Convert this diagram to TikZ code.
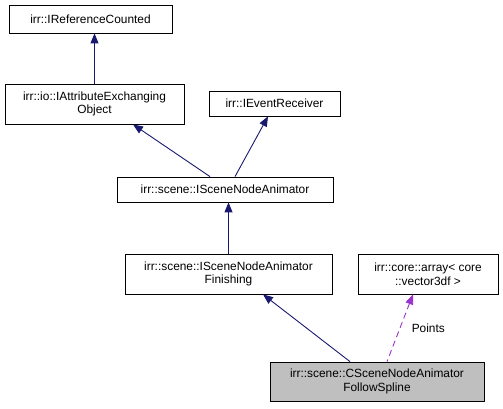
\documentclass[tikz,border=0pt]{standalone}
\usepackage{fontspec}
\setmainfont{Liberation Sans}
\usetikzlibrary{arrows.meta,positioning}
\definecolor{edgeblue}{HTML}{191970}
\definecolor{edgepurple}{HTML}{9A32CD}
\definecolor{curgray}{HTML}{BFBFBF}

\begin{document}
\begin{tikzpicture}[
    x=1pt, y=-1pt,
    cls/.style={draw, thick, inner sep=1pt, align=center, font=\fontsize{11.9}{13.8}\selectfont},
    inh/.style={{Triangle[length=10pt,width=8pt]}-, edgeblue, line width=0.9pt},
    use/.style={{Triangle[length=10pt,width=8pt]}-, edgepurple, line width=0.9pt, dash pattern=on 6pt off 4pt},
]
\useasboundingbox (0,0) rectangle (503,408);
% Class boxes
\node[cls, minimum width=163pt, minimum height=28pt] (ref) at (90.5,19) {irr::IReferenceCounted};
\node[cls, minimum width=179pt, minimum height=40pt] (attr) at (94.5,104) {irr::io::IAttributeExchanging\\Object};
\node[cls, minimum width=131pt, minimum height=25pt] (evt) at (274.5,103.5) {irr::IEventReceiver};
\node[cls, minimum width=216pt, minimum height=25pt] (anim) at (225,189.5) {irr::scene::ISceneNodeAnimator};
\node[cls, minimum width=207pt, minimum height=40pt] (fin) at (228.5,274) {irr::scene::ISceneNodeAnimator\\Finishing};
\node[cls, minimum width=140pt, minimum height=40pt] (arr) at (428,274) {irr::core::array\textless{} core\\::vector3df \textgreater};
\node[cls, fill=curgray, minimum width=214pt, minimum height=39pt] (spl) at (377,381.5) {irr::scene::CSceneNodeAnimator\\FollowSpline};

% Inheritance
\draw[inh] (ref.south -| attr.north) -- (attr.north);
\draw[inh] ([xshift=38.5pt]attr.south) -- ([xshift=-15pt]anim.north);
\draw[inh] ([xshift=-6.5pt]evt.south) -- ([xshift=10pt]anim.north);
\draw[inh] (anim.south -| fin.north) -- (fin.north);
\draw[inh] ([xshift=34.5pt]fin.south) -- ([xshift=-27pt]spl.north);

% Member usage
\draw[use] ([xshift=-15pt]arr.south) -- ([xshift=10pt]spl.north)
    node[midway, right=8pt, black, font=\fontsize{11.9}{13.8}\selectfont] (pts) {Points};
\end{tikzpicture}
\end{document}
